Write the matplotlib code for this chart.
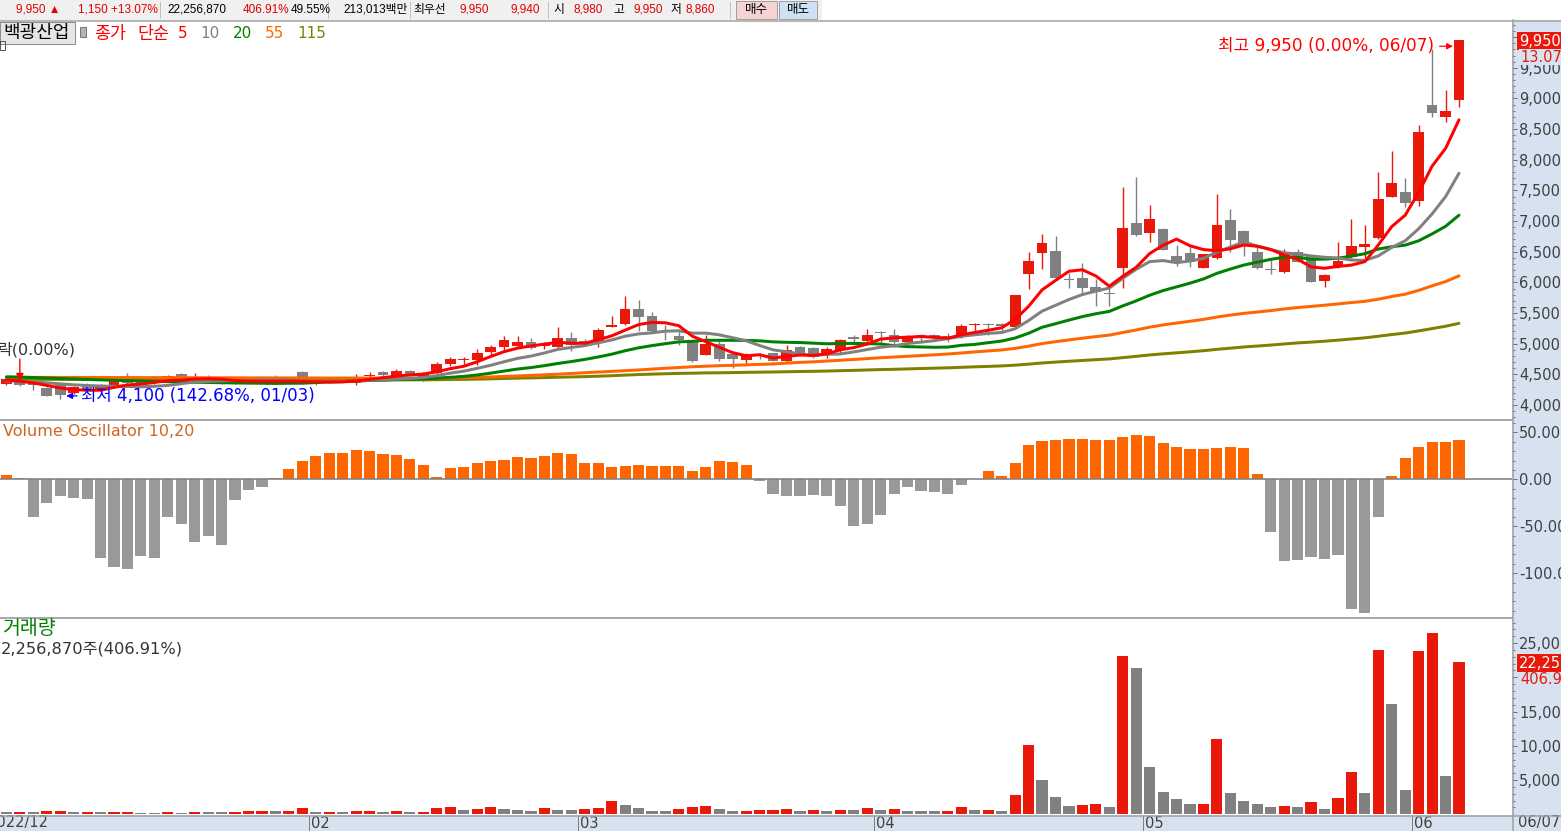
import matplotlib
matplotlib.use('Agg')
import matplotlib.pyplot as plt
import matplotlib.transforms as mtransforms
from matplotlib import font_manager
from matplotlib.patches import Rectangle
from matplotlib.lines import Line2D
import numpy as np

plt.rcParams['font.family'] = ['DejaVu Sans', 'Noto Sans CJK KR']
plt.rcParams['axes.unicode_minus'] = False

# ---------------- data ----------------
opens = [4340, 4370, 4340, 4270, 4320, 4190, 4330, 4240, 4330, 4400,
         4410, 4365, 4380, 4500, 4440, 4460, 4395, 4355, 4420, 4375,
         4460, 4420, 4545, 4380, 4365, 4405, 4365, 4470, 4545, 4450,
         4560, 4465, 4520, 4670, 4740, 4735, 4870, 4940, 4965, 5035,
         4960, 4950, 5095, 5050, 5035, 5280, 5320, 5565, 5450, 5200,
         5125, 5025, 4815, 5000, 4830, 4735, 4800, 4845, 4710, 4940,
         4925, 4815, 4900, 5105, 5050, 5190, 5145, 5020, 5140, 5145,
         5120, 5115, 5300, 5310, 5320, 5270, 6140, 6475, 6520, 6060,
         6080, 5930, 5830, 6240, 6965, 6810, 6870, 6430, 6485, 6240,
         6400, 7020, 6840, 6490, 6220, 6175, 6490, 6445, 6030, 6245,
         6410, 6585, 6730, 7400, 7470, 7335, 8895, 8690, 8980]
highs = [4440, 4390, 4360, 4290, 4330, 4310, 4360, 4340, 4400, 4520,
         4420, 4410, 4490, 4520, 4520, 4490, 4410, 4390, 4440, 4460,
         4490, 4430, 4550, 4390, 4440, 4420, 4500, 4545, 4550, 4580,
         4570, 4540, 4700, 4790, 4790, 4910, 4980, 5125, 5125, 5090,
         5020, 5280, 5190, 5070, 5250, 5450, 5780, 5715, 5520, 5310,
         5235, 5030, 5145, 5060, 4840, 4845, 4855, 4850, 4980, 4960,
         4940, 4950, 5070, 5145, 5235, 5210, 5235, 5140, 5160, 5160,
         5180, 5320, 5330, 5330, 5340, 5800, 6500, 6790, 6750, 6150,
         6310, 6060, 5930, 7560, 7725, 7260, 6880, 6610, 6595, 6470,
         7445, 7200, 6850, 6580, 6370, 6550, 6550, 6445, 6130, 6665,
         7035, 6935, 7805, 8145, 7710, 8570, 9800, 9140, 9950]
lows = [4330, 4310, 4250, 4140, 4100, 4180, 4240, 4230, 4320, 4350,
        4350, 4350, 4370, 4420, 4400, 4360, 4350, 4340, 4370, 4370,
        4350, 4360, 4350, 4330, 4360, 4370, 4330, 4440, 4480, 4440,
        4470, 4390, 4510, 4640, 4670, 4655, 4815, 4900, 4930, 4910,
        4910, 4920, 4880, 4960, 4950, 5270, 5300, 5215, 5170, 5055,
        4980, 4700, 4810, 4710, 4610, 4680, 4745, 4720, 4690, 4840,
        4770, 4760, 4850, 4980, 4980, 4995, 4950, 5000, 5010, 5080,
        5020, 5090, 5170, 5150, 5200, 5260, 5890, 6220, 6070, 5905,
        5830, 5620, 5620, 5905, 6760, 6665, 6530, 6270, 6255, 6230,
        6380, 6500, 6430, 6220, 6140, 6150, 6330, 6000, 5920, 6240,
        6400, 6400, 6700, 7390, 7225, 7250, 8705, 8620, 8860]
closes = [4420, 4320, 4330, 4150, 4165, 4300, 4260, 4330, 4385, 4365,
          4365, 4395, 4480, 4430, 4455, 4380, 4360, 4370, 4385, 4450,
          4370, 4375, 4355, 4345, 4425, 4385, 4450, 4480, 4490, 4555,
          4480, 4520, 4665, 4745, 4750, 4845, 4950, 5060, 5035, 4930,
          4990, 5100, 4985, 5030, 5225, 5300, 5565, 5440, 5210, 5190,
          5060, 4710, 5000, 4750, 4750, 4805, 4795, 4725, 4900, 4850,
          4780, 4915, 5060, 5075, 5145, 5180, 5020, 5115, 5120, 5090,
          5110, 5290, 5310, 5300, 5290, 5795, 6355, 6650, 6070, 6040,
          5915, 5850, 5815, 6880, 6775, 7035, 6530, 6310, 6340, 6465,
          6935, 6690, 6625, 6230, 6205, 6490, 6340, 6000, 6120, 6355,
          6595, 6625, 7360, 7615, 7290, 8450, 8770, 8800, 9950]
# volume in thousand shares
volumes = [292, 300, 280, 438, 450, 292, 300, 290, 300, 310,
           146, 140, 292, 146, 292, 280, 270, 292, 438, 450,
           440, 450, 876, 292, 300, 290, 438, 450, 292, 438,
           292, 300, 876, 1022, 584, 730, 1022, 730, 584, 438,
           876, 584, 580, 730, 876, 1898, 1314, 876, 438, 430,
           730, 1022, 1168, 730, 438, 450, 584, 650, 730, 438,
           584, 438, 584, 580, 876, 584, 730, 438, 430, 425,
           460, 1022, 584, 600, 438, 2774, 10073, 4963, 2482, 1168,
           1314, 1460, 1022, 23065, 21313, 6861, 3212, 2190, 1460, 1490,
           10949, 3066, 1898, 1460, 1022, 1168, 1022, 1752, 730, 2336,
           6131, 3066, 23941, 16058, 3504, 23795, 26422, 5547, 22257]
vol_osc = [4.6, 1.4, -39.7, -24.8, -17.7, -19.5, -20.9, -83.3, -92.9, -95.4,
           -81.6, -83.3, -39.7, -47.2, -66.7, -60.3, -69.9, -22.0, -11.3, -7.8,
           1.4, 11.0, 19.5, 25.2, 28.0, 28.0, 31.2, 30.1, 27.3, 25.9,
           21.6, 15.6, 2.5, 12.0, 13.1, 17.4, 19.5, 20.6, 23.8, 22.7,
           25.2, 28.0, 26.9, 17.4, 17.4, 13.1, 14.5, 15.2, 14.2, 14.2,
           14.2, 8.9, 13.1, 19.5, 18.4, 15.2, -1.4, -15.6, -17.7, -17.7,
           -16.7, -17.7, -28.4, -49.6, -47.5, -37.9, -15.6, -7.8, -12.4, -13.1,
           -15.6, -6.0, 0.0, 8.9, 3.5, 17.7, 36.5, 40.4, 41.5, 42.5,
           42.5, 41.5, 41.5, 45.4, 46.8, 45.7, 38.7, 34.4, 32.3, 32.3,
           33.3, 34.4, 33.3, 5.7, -55.7, -86.5, -85.8, -82.3, -84.4, -80.5,
           -138.3, -142.2, -40.0, 3.5, 22.7, 34.4, 39.4, 39.4, 41.5]
ma5 = [4410, 4390, 4360, 4320, 4277, 4253, 4241, 4241, 4288, 4328,
       4341, 4368, 4398, 4407, 4425, 4428, 4421, 4399, 4390, 4389,
       4387, 4390, 4387, 4379, 4374, 4377, 4392, 4417, 4446, 4472,
       4491, 4505, 4542, 4593, 4632, 4705, 4791, 4870, 4928, 4964,
       4993, 5023, 5008, 5007, 5066, 5128, 5221, 5312, 5348, 5341,
       5293, 5122, 5034, 4942, 4854, 4803, 4820, 4765, 4795, 4815,
       4810, 4834, 4901, 4936, 4995, 5075, 5096, 5107, 5116, 5105,
       5091, 5145, 5184, 5220, 5260, 5397, 5610, 5878, 6032, 6182,
       6206, 6105, 5938, 6100, 6247, 6471, 6607, 6706, 6598, 6536,
       6516, 6548, 6611, 6589, 6537, 6448, 6378, 6253, 6231, 6261,
       6282, 6339, 6611, 6910, 7097, 7468, 7897, 8185, 8652]
ma10 = [4395, 4385, 4375, 4362, 4345, 4330, 4318, 4310, 4305, 4303,
        4297, 4305, 4320, 4348, 4377, 4385, 4395, 4399, 4399, 4407,
        4408, 4406, 4393, 4385, 4382, 4382, 4391, 4402, 4413, 4423,
        4434, 4449, 4480, 4520, 4552, 4598, 4648, 4706, 4761, 4798,
        4849, 4907, 4939, 4968, 5015, 5061, 5122, 5160, 5178, 5204,
        5211, 5172, 5173, 5145, 5098, 5048, 4971, 4900, 4869, 4835,
        4807, 4827, 4833, 4866, 4905, 4943, 4965, 5004, 5026, 5050,
        5083, 5121, 5146, 5168, 5183, 5244, 5378, 5531, 5626, 5721,
        5802, 5858, 5908, 6066, 6215, 6339, 6356, 6322, 6349, 6392,
        6494, 6578, 6659, 6594, 6537, 6482, 6463, 6432, 6410, 6399,
        6365, 6359, 6432, 6571, 6679, 6875, 7118, 7398, 7781]
ma20 = [4460, 4455, 4448, 4440, 4432, 4425, 4418, 4410, 4404, 4398,
        4392, 4386, 4381, 4376, 4372, 4368, 4364, 4360, 4357, 4355,
        4352, 4355, 4356, 4366, 4379, 4383, 4393, 4400, 4406, 4415,
        4421, 4427, 4436, 4452, 4467, 4490, 4520, 4554, 4587, 4611,
        4642, 4678, 4709, 4744, 4784, 4829, 4885, 4933, 4969, 5001,
        5030, 5039, 5056, 5056, 5056, 5054, 5047, 5030, 5023, 5019,
        5009, 4999, 5003, 5005, 5001, 4995, 4968, 4952, 4947, 4942,
        4945, 4974, 4989, 5017, 5044, 5093, 5171, 5268, 5326, 5386,
        5442, 5489, 5527, 5617, 5699, 5791, 5867, 5927, 5988, 6056,
        6148, 6218, 6283, 6330, 6376, 6410, 6410, 6377, 6380, 6395,
        6429, 6468, 6545, 6582, 6608, 6679, 6791, 6915, 7096]
ma55 = [4452, 4452, 4451, 4451, 4450, 4450, 4449, 4449, 4448, 4448,
        4447, 4447, 4446, 4446, 4445, 4445, 4444, 4444, 4443, 4443,
        4442, 4442, 4441, 4441, 4440, 4440, 4440, 4439, 4439, 4439,
        4438, 4438, 4440, 4443, 4447, 4452, 4458, 4466, 4474, 4483,
        4493, 4503, 4515, 4527, 4538, 4549, 4560, 4572, 4586, 4600,
        4612, 4624, 4633, 4642, 4647, 4655, 4663, 4670, 4684, 4696,
        4705, 4717, 4730, 4743, 4757, 4772, 4783, 4795, 4807, 4819,
        4832, 4849, 4866, 4883, 4898, 4924, 4960, 5002, 5033, 5062,
        5090, 5116, 5140, 5183, 5224, 5270, 5307, 5337, 5366, 5397,
        5435, 5467, 5495, 5517, 5540, 5567, 5590, 5608, 5628, 5649,
        5672, 5691, 5726, 5770, 5808, 5870, 5944, 6013, 6107]
ma115 = [4420, 4420, 4419, 4419, 4418, 4418, 4418, 4417, 4417, 4417,
         4416, 4416, 4416, 4415, 4415, 4415, 4414, 4414, 4414, 4413,
         4413, 4413, 4412, 4412, 4412, 4411, 4411, 4411, 4410, 4410,
         4410, 4411, 4413, 4416, 4419, 4422, 4427, 4433, 4438, 4442,
         4447, 4453, 4458, 4463, 4470, 4478, 4488, 4497, 4504, 4510,
         4516, 4519, 4524, 4526, 4529, 4533, 4536, 4539, 4543, 4547,
         4550, 4554, 4560, 4565, 4572, 4578, 4583, 4589, 4595, 4601,
         4607, 4615, 4623, 4630, 4638, 4650, 4667, 4686, 4700, 4714,
         4727, 4740, 4752, 4773, 4794, 4817, 4835, 4851, 4868, 4886,
         4908, 4927, 4947, 4962, 4978, 4996, 5013, 5026, 5041, 5058,
         5077, 5096, 5122, 5149, 5174, 5209, 5247, 5285, 5333]

month_idx = [23, 43, 65, 85, 105]          # first bar of each month
month_lbl = ['02', '03', '04', '05', '06']
first_month_lbl = '2022/12'
last_date_lbl = '06/07'
ma_periods = ['5', '10', '20', '55', '115']
price_ticks = [4000, 4500, 5000, 5500, 6000, 6500, 7000, 7500, 8000, 8500, 9000, 9500, 10000]
osc_ticks = [50, 0, -50, -100]
vol_ticks = [5000, 10000, 15000, 20000, 25000]
hidden_price_lbl = [10000]   # covered by the current-price box in the reference
hidden_vol_lbl = [20000]     # covered by the volume-ratio text in the reference

stock_name = '백광산업'
high_text = '최고 9,950 (0.00%, 06/07)'
low_text = '최저 4,100 (142.68%, 01/03)'
mark_text = '락(0.00%)'
mark_bar = 1
chg_pct_text = '13.07%'
vol_text = '2,256,870주(406.91%)'
vol_pct_text = '406.91%'
vol_today = 22256870
toolbar_items = [  # (x px, text, colour)
    (16, '9,950 ▲', '#E00000'), (78, '1,150 +13.07%', '#E00000'),
    (167, '22,256,870', '#000000'), (243, '406.91%', '#E00000'),
    (291, '49.55%', '#000000'), (343, '213,013백만', '#000000'),
    (413, '최우선', '#000000'), (460, '9,950', '#E00000'),
    (510, '9,940', '#E00000'), (553, '시', '#000000'),
    (573, '8,980', '#E00000'), (613, '고', '#000000'),
    (633, '9,950', '#E00000'), (671, '저', '#000000'),
    (685, '8,860', '#E00000')]


def has_font(name):
    try:
        font_manager.findfont(name, fallback_to_default=False)
        return True
    except Exception:
        return False


if has_font('Liberation Sans Narrow'):
    TB_FAMILY, TB_SIZE = ['Liberation Sans Narrow', 'Noto Sans CJK KR'], 9.8
else:
    TB_FAMILY, TB_SIZE = ['Liberation Sans', 'Noto Sans CJK KR'], 8.5

# ---------------- layout helpers ----------------
W, H = 1561, 831
DPI = 100
PX = 72.0 / DPI
fig = plt.figure(figsize=(W / DPI, H / DPI), dpi=DPI, facecolor='white')

RED = '#E8190B'
GRAY = '#808080'
AXBG = '#D6E2F0'
BORDER = '#A0A0A0'


def fx(x):
    return x / W


def fy(y):
    return 1 - y / H


def axes_px(x0, y0, x1, y1):
    ax = fig.add_axes([fx(x0), fy(y1), (x1 - x0) / W, (y1 - y0) / H])
    ax.set_facecolor('white')
    for s in ax.spines.values():
        s.set_visible(False)
    ax.set_xticks([])
    return ax


def rect_px(x0, y0, x1, y1, **kw):
    fig.add_artist(Rectangle((fx(x0), fy(y1)), (x1 - x0) / W, (y1 - y0) / H,
                             transform=fig.transFigure, **kw))


def line_px(xs, ys, **kw):
    fig.add_artist(Line2D([fx(v) for v in xs], [fy(v) for v in ys],
                          transform=fig.transFigure, **kw))


def text_px(x, y, s, **kw):
    kw.setdefault('va', 'center')
    kw.setdefault('ha', 'left')
    return fig.text(fx(x), fy(y), s, **kw)


PLOT_R = 1512
# background strips
rect_px(PLOT_R, 20, W, H, fc=AXBG, ec='none', zorder=-2)
rect_px(0, 815, W, H, fc=AXBG, ec='none', zorder=-2)
rect_px(0, 0, 822, 20, fc='#F0F0F0', ec='none', zorder=-2)

ax_p = axes_px(0, 21, PLOT_R, 419)
ax_o = axes_px(0, 420, PLOT_R, 617)
ax_v = axes_px(0, 618, PLOT_R, 815)

n = len(closes)
x = np.arange(n)
XL = (-0.476, 111.94)
for a in (ax_p, ax_o, ax_v):
    a.set_xlim(*XL)

ax_p.set_ylim(3772, 10264)
ax_o.set_ylim(-146.5, 63.1)
ax_v.set_ylim(-102, 28660)

# ---------------- candles ----------------
o = np.array(opens, float)
h = np.array(highs, float)
lo = np.array(lows, float)
c = np.array(closes, float)
up = c >= o
cc = np.where(up, RED, GRAY)
ax_p.vlines(x, lo, h, colors=cc, lw=1.4 * PX, zorder=2)
body_lo = np.minimum(o, c)
body_h = np.maximum(np.abs(c - o), 18)
ax_p.bar(x, body_h, bottom=body_lo, width=0.8, color=cc, lw=0, zorder=3)

ma_cols = ['#FF0000', '#808080', '#008000', '#FF6600', '#808000']
for k, (ma, col) in enumerate(zip([ma115, ma55, ma20, ma10, ma5], ma_cols[::-1])):
    ax_p.plot(x, ma, color=col, lw=3.0 * PX, zorder=4 + k, solid_capstyle='round')

# ---------------- oscillator ----------------
osc = np.array(vol_osc)
ax_o.bar(x, osc, width=0.83, color=np.where(osc >= 0, '#FF6600', '#999999'), lw=0, zorder=2)
ax_o.axhline(0, color='#808080', lw=1.6 * PX, zorder=3)

# ---------------- volume ----------------
v = np.array(volumes, float)
vcol = [GRAY] + [RED if v[i] > v[i - 1] else GRAY for i in range(1, n)]
ax_v.bar(x, v, width=0.83, color=vcol, lw=0, zorder=2)

# ---------------- right axes ----------------
def right_axis(ax, major, labels, minor):
    ax.yaxis.tick_right()
    ax.set_yticks(major)
    ax.set_yticklabels(labels)
    ax.set_yticks(minor, minor=True)
    ax.tick_params(axis='y', which='major', direction='out', length=5 * PX, width=1 * PX,
                   color='#707070', pad=2 * PX, labelsize=10.5, labelcolor='#404040',
                   right=True, left=False, labelright=True, labelleft=False)
    ax.tick_params(axis='y', which='minor', direction='out', length=3 * PX, width=1 * PX,
                   color='#707070', right=True, left=False)


right_axis(ax_p, price_ticks,
           ['' if t in hidden_price_lbl else f'{t:,}' for t in price_ticks],
           list(range(3800, 10300, 100)))
right_axis(ax_o, osc_ticks, [f'{t:.2f}' for t in osc_ticks], list(range(-140, 70, 10)))
right_axis(ax_v, vol_ticks,
           ['' if t in hidden_vol_lbl else f'{t:,}' for t in vol_ticks],
           list(range(1000, 29000, 1000)))

# current value boxes on the axis
text_px(1519, 41, f'{closes[-1]:,}', color='white', fontsize=10.5, zorder=10,
        bbox=dict(boxstyle='square,pad=0.12', fc=RED, ec='none'))
text_px(1520, 57, chg_pct_text, color=RED, fontsize=10.5, zorder=10,
        bbox=dict(boxstyle='square,pad=0.05', fc=AXBG, ec='none'))
text_px(1519, 663, f'{vol_today:,}', color='white', fontsize=10.5, zorder=10,
        bbox=dict(boxstyle='square,pad=0.12', fc=RED, ec='none'))
text_px(1520, 680, vol_pct_text, color=RED, fontsize=10.5, zorder=10,
        bbox=dict(boxstyle='square,pad=0.05', fc=AXBG, ec='none'))

# ---------------- borders ----------------
line_px([0, W], [20.5, 20.5], color=BORDER, lw=1.5 * PX, zorder=6)
line_px([0, PLOT_R], [419.5, 419.5], color=BORDER, lw=1.8 * PX, zorder=6)
line_px([0, PLOT_R], [617.5, 617.5], color=BORDER, lw=1.8 * PX, zorder=6)
line_px([0, W], [815.5, 815.5], color=BORDER, lw=1.5 * PX, zorder=6)
line_px([PLOT_R + 0.5, PLOT_R + 0.5], [20, H], color=BORDER, lw=1.5 * PX, zorder=6)

# ---------------- date strip ----------------
trans_x = mtransforms.blended_transform_factory(ax_v.transData, fig.transFigure)
trans_lbl = mtransforms.offset_copy(trans_x, fig=fig, x=2, y=0, units='dots')
for idx, lbl in zip(month_idx, month_lbl):
    xm = idx - 0.5
    fig.add_artist(Line2D([xm, xm], [fy(816), fy(H)], transform=trans_x, color='#808080', lw=1 * PX))
    fig.text(xm, fy(823), lbl, transform=trans_lbl, ha='left', va='center', fontsize=10.5, color='#404040')
text_px(-12, 823, first_month_lbl, fontsize=10.5, color='#404040')
text_px(1518, 823, last_date_lbl, fontsize=10.5, color='#404040')

# ---------------- toolbar ----------------
for xd in (160, 328, 410, 548, 730):
    line_px([xd, xd], [2, 18], color='#C0C0C0', lw=1 * PX)
for xt, s, col in toolbar_items:
    text_px(xt, 10, s, fontsize=TB_SIZE, family=TB_FAMILY, color=col)
rect_px(736, 1, 777, 19, fc='#F5D3D3', ec='#A0A0A0', lw=1 * PX)
rect_px(779, 1, 817, 19, fc='#CFE1F5', ec='#A0A0A0', lw=1 * PX)
text_px(756.5, 10, '매수', ha='center', fontsize=9, color='#000000')
text_px(798, 10, '매도', ha='center', fontsize=9, color='#000000')

# ---------------- legend / titles ----------------
rect_px(0, 22, 75, 44, fc='#E6E6E6', ec='#8C8C8C', lw=1 * PX, zorder=7)
text_px(3, 33, stock_name, fontsize=13, color='#000000', zorder=8)
rect_px(80, 27, 86, 37, fc='#B4B4B4', ec='#606060', lw=0.8 * PX, zorder=7)
rect_px(0, 41, 5, 50, fc='none', ec='#303030', lw=0.8 * PX, zorder=7)
text_px(94, 34, '종가', fontsize=12.5, color='#FF0000', zorder=8)
text_px(137, 34, '단순', fontsize=12.5, color='#FF0000', zorder=8)
for xl, lab, col in zip([178, 200, 233, 265, 297], ma_periods, ma_cols):
    text_px(xl, 33, lab, fontsize=11, color=col, zorder=8)

text_px(3, 432, 'Volume Oscillator 10,20', fontsize=11.5, color='#CC6622', zorder=8)
text_px(2, 628, '거래량', fontsize=14, color='#008000', zorder=8)
text_px(1, 649, vol_text, fontsize=11.7, color='#333333', zorder=8)

# ---------------- annotations ----------------
hi_i = int(np.argmax(h))
lo_i = int(np.argmin(lo))
tr_hi = mtransforms.offset_copy(ax_p.transData, fig=fig, x=0, y=-6, units='dots')
ax_p.annotate(high_text, xy=(hi_i - 0.45, h[hi_i]), xycoords=tr_hi,
              xytext=(-19, 0), textcoords='offset pixels', ha='right', va='center',
              color='#FF0000', fontsize=12.2, zorder=12, annotation_clip=False,
              arrowprops=dict(arrowstyle='-|>', color='#FF0000', lw=1.2 * PX,
                              shrinkA=2, shrinkB=0, mutation_scale=9))
tr_lo = mtransforms.offset_copy(ax_p.transData, fig=fig, x=0, y=3, units='dots')
ax_p.annotate(low_text, xy=(lo_i + 0.45, lo[lo_i]), xycoords=tr_lo,
              xytext=(15, 0), textcoords='offset pixels', ha='left', va='center',
              color='#0000FF', fontsize=12, zorder=12, annotation_clip=False,
              arrowprops=dict(arrowstyle='-|>', color='#0000FF', lw=1.2 * PX,
                              shrinkA=1, shrinkB=0, mutation_scale=9))
ax_p.annotate('', xy=(mark_bar, h[mark_bar]), xytext=(0, 22), textcoords='offset pixels',
              zorder=12, arrowprops=dict(arrowstyle='-|>', color='#FF0000', lw=1.4 * PX,
                                         shrinkA=0, shrinkB=0, mutation_scale=11))
text_px(-2, 350, mark_text, fontsize=11.5, color='#333333', zorder=8)

fig.savefig('out.png', dpi=DPI, facecolor='white')
